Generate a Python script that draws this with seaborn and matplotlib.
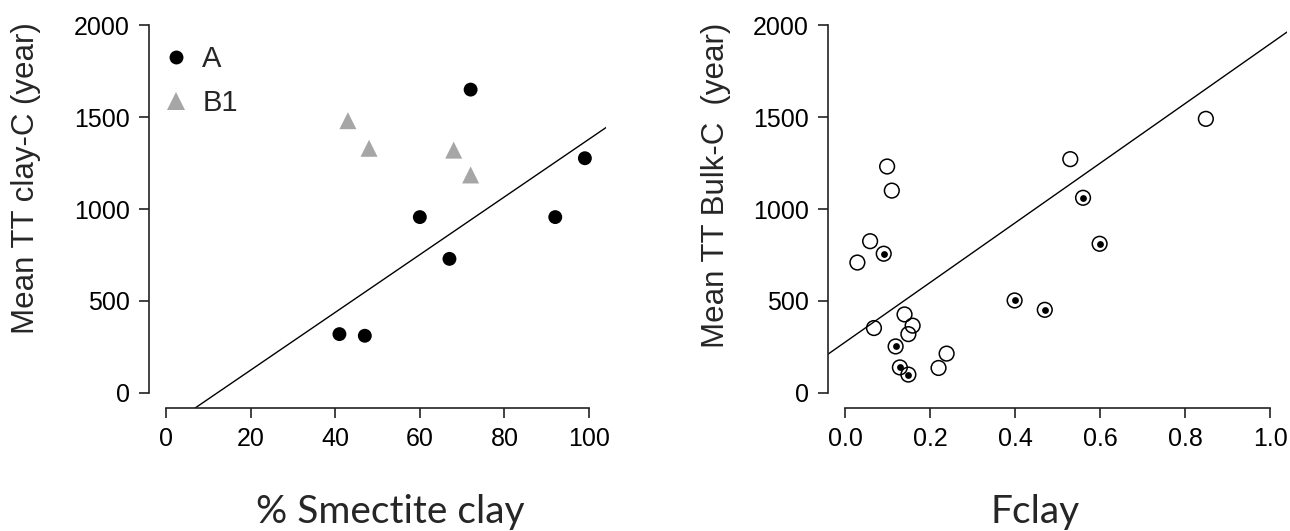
import matplotlib
matplotlib.use("Agg")
import matplotlib.pyplot as plt
import numpy as np
import pandas as pd
import seaborn as sns

# left panel: % smectite clay vs mean transit time of clay-C
smectite_A = [41, 47, 60, 67, 72, 92, 99]
clay_tt_A = [320, 311, 956, 729, 1649, 956, 1276]
smectite_B1 = [43, 48, 68, 72]
clay_tt_B1 = [1480, 1330, 1320, 1185]
left_fit = (-190, 15.7)  # intercept, slope

# right panel: Fclay vs mean transit time of bulk C
fclay_open = [0.029, 0.059, 0.099, 0.110, 0.068, 0.140, 0.159, 0.149, 0.239, 0.220, 0.530, 0.849]
bulk_open = [709, 825, 1231, 1100, 353, 427, 366, 320, 214, 136, 1271, 1490]
fclay_dot = [0.091, 0.119, 0.129, 0.149, 0.399, 0.470, 0.560, 0.599]
bulk_dot = [757, 253, 139, 100, 503, 452, 1061, 811]
right_fit = (276, 1621)

sns.set_theme(style="ticks")
plt.rcParams["font.family"] = ["Liberation Sans", "DejaVu Sans"]
plt.rcParams["axes.edgecolor"] = "#222222"
plt.rcParams["xtick.color"] = "#222222"
plt.rcParams["ytick.color"] = "#222222"
plt.rcParams["xtick.labelcolor"] = "black"
plt.rcParams["ytick.labelcolor"] = "black"

fig = plt.figure(figsize=(12.9, 5.31), dpi=100)
ax1 = fig.add_axes([0.1155, 0.2322, 0.3543, 0.7484])
ax2 = fig.add_axes([0.6419, 0.2322, 0.3558, 0.7484])

df_left = pd.DataFrame({
    "smectite": smectite_A + smectite_B1,
    "tt": clay_tt_A + clay_tt_B1,
    "group": ["A"] * len(smectite_A) + ["B1"] * len(smectite_B1),
})
sns.scatterplot(data=df_left, x="smectite", y="tt", hue="group", style="group",
                palette={"A": "black", "B1": "#a6a6a6"},
                markers={"A": "o", "B1": "^"}, size="group",
                sizes={"A": 100, "B1": 150}, linewidth=0, ax=ax1, zorder=3)

xs = np.array([-10, 120])
ax1.plot(xs, left_fit[0] + left_fit[1] * xs, color="black", lw=1.0, zorder=2)
ax1.set_xlim(-4, 104)
ax1.set_ylim(-80, 2080)

leg = ax1.legend(loc="upper left", bbox_to_anchor=(0.027, 0.913), frameon=False,
                 fontsize=21, handlelength=1.0, handletextpad=0.4,
                 labelspacing=0.55, borderpad=0, borderaxespad=0)

df_right = pd.DataFrame({
    "fclay": fclay_open + fclay_dot,
    "tt": bulk_open + bulk_dot,
})
sns.scatterplot(data=df_right, x="fclay", y="tt", s=112, facecolor="none",
                edgecolor="black", linewidth=1.1, ax=ax2, zorder=3)
sns.scatterplot(x=fclay_dot, y=bulk_dot, s=24, color="black", linewidth=0,
                ax=ax2, zorder=4)
xs2 = np.array([-0.2, 1.2])
ax2.plot(xs2, right_fit[0] + right_fit[1] * xs2, color="black", lw=1.0, zorder=2)
ax2.set_xlim(-0.04, 1.04)
ax2.set_ylim(-80, 2080)

for ax, xticks, xfmt in [(ax1, [0, 20, 40, 60, 80, 100], "{:.0f}"),
                         (ax2, [0, 0.2, 0.4, 0.6, 0.8, 1.0], "{:.1f}")]:
    ax.set_xticks(xticks)
    ax.set_xticklabels([xfmt.format(t) for t in xticks])
    ax.set_yticks([0, 500, 1000, 1500, 2000])
    ax.spines["top"].set_visible(False)
    ax.spines["right"].set_visible(False)
    ax.spines["left"].set_bounds(0, 2000)
    ax.spines["bottom"].set_bounds(xticks[0], xticks[-1])
    for s in ("left", "bottom"):
        ax.spines[s].set_linewidth(1.2)
    ax.tick_params(length=7.5, width=1.2, pad=6.5, labelsize=18)
    ax.set_facecolor("white")

ax1.set_xlabel("% Smectite clay", fontsize=28, family=["Lato", "DejaVu Sans"], va="baseline")
ax1.xaxis.set_label_coords(0.527, -0.290)
ax2.set_xlabel("Fclay", fontsize=28, family=["Lato", "DejaVu Sans"], va="baseline")
ax2.xaxis.set_label_coords(0.452, -0.290)

ax1.set_ylabel("Mean TT clay-C (year)", fontsize=22.5, va="center")
ax1.yaxis.set_label_coords(-0.269, 0.579)
ax2.set_ylabel("Mean TT Bulk-C  (year)", fontsize=22.5, va="center")
ax2.yaxis.set_label_coords(-0.244, 0.560)

fig.savefig("out.png", dpi=100, facecolor="white")
